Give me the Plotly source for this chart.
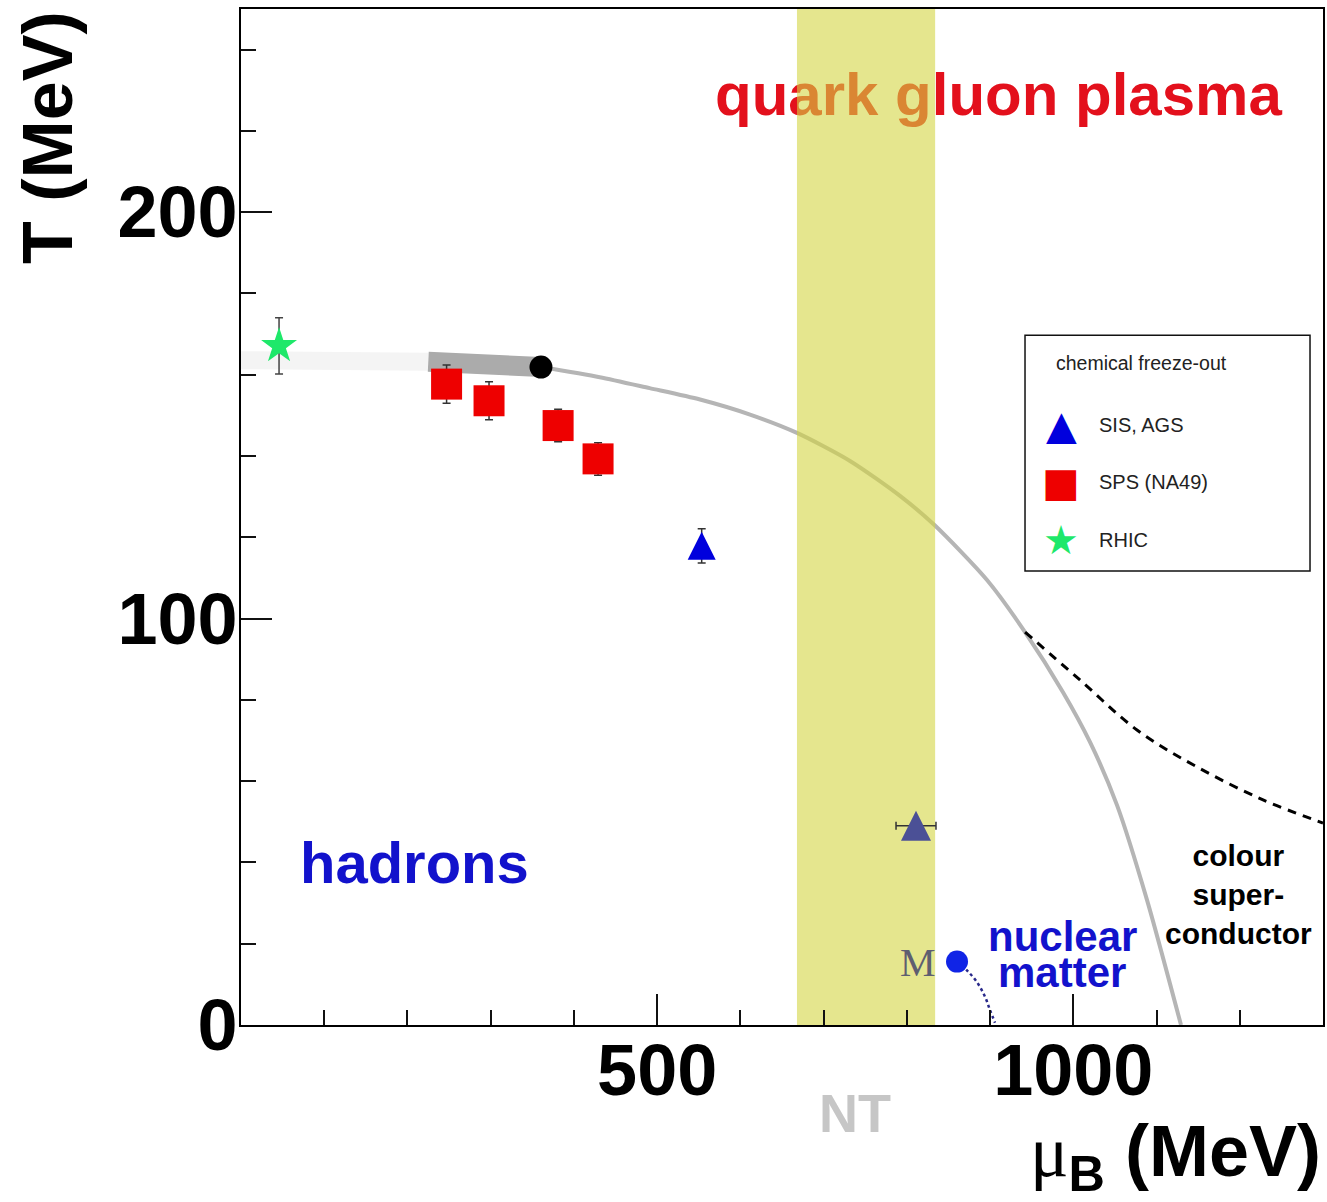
import plotly.graph_objects as go

# ---- chemical freeze-out points (mu_B in MeV, T in MeV) ----
sps_mu = [247, 298, 381, 429]
sps_T = [157.7, 153.6, 147.5, 139.3]
sps_err = [4.7, 4.7, 4.0, 4.0]

ags_mu = [553.5]
ags_T = [117.9]
ags_err = [4.2]

sis_mu = [811]
sis_T = [49.0]
sis_err_mu = [24]

rhic_mu = [45.7]
rhic_T = [167.1]
rhic_err = [6.9]

# ---- special points ----
crit_mu = [360.4]
crit_T = [161.9]
nucl_mu = [860.3]
nucl_T = [15.6]

# ---- phase boundaries ----
lattice_mu = [0, 225]
lattice_T = [163.6, 163.2]

crossover_mu = [225, 300, 360.4]
crossover_T = [163.2, 162.7, 161.9]

boundary_mu = [360.4, 431, 491, 551.5, 611.6, 668, 731.7, 791.8, 833.8,
               896.3, 942, 987.6, 1020.1, 1052.5, 1088.5, 1129.4]
boundary_T = [161.9, 159.4, 156.7, 153.9, 150.2, 145.7, 138.8, 130.2, 122.9,
              109.5, 96.7, 81.9, 69.6, 54.1, 30.8, 0]

csc_mu = [942, 1008, 1076.5, 1148.6, 1228, 1300]
csc_T = [96.7, 84.9, 72.6, 63.5, 55.4, 49.7]

nucl_line_mu = [860.3, 871.9, 883.9, 893.9, 899.9, 905.9]
nucl_line_T = [15.6, 13.5, 10.65, 6.96, 3.69, 0.57]

# ---- neutron-star (NT) window and axis ranges ----
nt_range = [668, 834]
mu_range = [0, 1300]
T_range = [0, 250]

x_major = [500, 1000]
x_minor = [v for v in range(100, 1301, 100) if v not in x_major]
y_major = [0, 100, 200]
y_minor = [v for v in range(20, 250, 20) if v not in y_major]

FONT = "Liberation Sans, Arial, Helvetica, sans-serif"

fig = go.Figure()

# faint lattice band continuing to mu_B = 0
fig.add_trace(go.Scatter(x=lattice_mu, y=lattice_T, mode="lines",
                         line=dict(color="#f4f4f4", width=18),
                         hoverinfo="skip", showlegend=False))
# crossover region (thick grey)
fig.add_trace(go.Scatter(x=crossover_mu, y=crossover_T, mode="lines",
                         line=dict(color="#ababab", width=20),
                         hoverinfo="skip", showlegend=False))
# first-order transition line
fig.add_trace(go.Scatter(x=boundary_mu, y=boundary_T, mode="lines",
                         line=dict(color="#b5b5b5", width=4, shape="spline", smoothing=0.7),
                         hoverinfo="skip", showlegend=False))
# colour superconductor boundary
fig.add_trace(go.Scatter(x=csc_mu, y=csc_T, mode="lines",
                         line=dict(color="black", width=3, dash="9px,7px", shape="spline"),
                         hoverinfo="skip", showlegend=False))
# nuclear liquid-gas line
fig.add_trace(go.Scatter(x=nucl_line_mu, y=nucl_line_T, mode="lines",
                         line=dict(color="#28288a", width=2.5, dash="dot", shape="spline"),
                         hoverinfo="skip", showlegend=False))

# phase label drawn as a trace so the NT window tints it
fig.add_trace(go.Scatter(x=[910], y=[227.6], mode="text",
                         text=["quark gluon plasma"],
                         textfont=dict(family=FONT, size=60, color="#e3101c", weight="bold"),
                         hoverinfo="skip", showlegend=False))

# NT window (semi-transparent)
fig.add_trace(go.Scatter(
    x=[nt_range[0], nt_range[1], nt_range[1], nt_range[0], nt_range[0]],
    y=[T_range[0], T_range[0], T_range[1], T_range[1], T_range[0]],
    mode="lines", fill="toself", fillcolor="rgba(212,213,67,0.6)",
    line=dict(width=0), hoverinfo="skip", showlegend=False))

# critical point
fig.add_trace(go.Scatter(x=crit_mu, y=crit_T, mode="markers",
                         marker=dict(color="black", size=23),
                         hoverinfo="skip", showlegend=False))
# nuclear matter ground state
fig.add_trace(go.Scatter(x=nucl_mu, y=nucl_T, mode="markers",
                         marker=dict(color="#1024e6", size=22),
                         hoverinfo="skip", showlegend=False))

# SPS (NA49)
fig.add_trace(go.Scatter(x=sps_mu, y=sps_T, mode="markers", name="SPS (NA49)",
                         marker=dict(symbol="square", color="#ee0000", size=31),
                         error_y=dict(type="data", array=sps_err, color="#333333",
                                      thickness=1.5, width=4),
                         showlegend=False))
# AGS
fig.add_trace(go.Scatter(x=ags_mu, y=ags_T, mode="markers", name="AGS",
                         marker=dict(symbol="arrow-down", angle=180, standoff=14,
                                     color="#0000dd", size=28),
                         error_y=dict(type="data", array=ags_err, color="#333333",
                                      thickness=1.5, width=4),
                         showlegend=False))
# SIS
fig.add_trace(go.Scatter(x=sis_mu, y=sis_T, mode="markers", name="SIS",
                         marker=dict(symbol="arrow-down", angle=180, standoff=15,
                                     color="#4b5096", size=30),
                         error_x=dict(type="data", array=sis_err_mu, color="#333333",
                                      thickness=1.5, width=4),
                         showlegend=False))
# RHIC
fig.add_trace(go.Scatter(x=rhic_mu, y=rhic_T, mode="markers", name="RHIC",
                         marker=dict(symbol="star", color="#1ee86a", size=27),
                         error_y=dict(type="data", array=rhic_err, color="#444444",
                                      thickness=1.5, width=4),
                         showlegend=False))

annotations = [
    dict(x=208, y=40.1, xref="x", yref="y", text="hadrons", showarrow=False,
         font=dict(family=FONT, size=58, color="#1212cc", weight="bold")),
    dict(x=987, y=21.7, xref="x", yref="y", text="nuclear", showarrow=False,
         font=dict(family=FONT, size=42, color="#1212cc", weight="bold")),
    dict(x=987, y=12.8, xref="x", yref="y", text="matter", showarrow=False,
         font=dict(family=FONT, size=42, color="#1212cc", weight="bold")),
    dict(x=1199, y=32, xref="x", yref="y", text="colour<br>super-<br>conductor",
         showarrow=False,
         font=dict(family=FONT, size=30, color="black", weight="bold")),
    dict(x=813.4, y=15.5, xref="x", yref="y", text="M", showarrow=False,
         font=dict(family="Liberation Serif, Times New Roman, serif", size=40,
                   color="#5e5e70")),
    dict(x=738, y=-0.0866, xref="x", yref="paper", text="NT", showarrow=False,
         xanchor="center", yanchor="middle",
         font=dict(family=FONT, size=54, color="#c6c6c6", weight="bold")),
    # axis titles
    dict(x=-0.1784, y=0.874, xref="paper", yref="paper", text="T (MeV)",
         textangle=-90, showarrow=False, xanchor="center", yanchor="middle",
         font=dict(family=FONT, size=70, color="black", weight="bold")),
    dict(x=1.0, y=-0.129, xref="paper", yref="paper",
         text='<span style="font-family:Liberation Serif;font-weight:normal">μ</span>'
              '<sub>B</sub> (MeV)',
         showarrow=False, xanchor="right", yanchor="middle",
         font=dict(family=FONT, size=72, color="black", weight="bold")),
    # legend
    dict(x=0.7514, y=0.6516, xref="paper", yref="paper", text="chemical freeze-out",
         showarrow=False, xanchor="left", yanchor="middle",
         font=dict(family=FONT, size=19.5, color="#222222")),
    dict(x=0.7579, y=0.5906, xref="paper", yref="paper", text="▲", showarrow=False,
         xanchor="center", yanchor="middle",
         font=dict(family="DejaVu Sans", size=40, color="#0000dd")),
    dict(x=0.7579, y=0.5344, xref="paper", yref="paper", text="■", showarrow=False,
         xanchor="center", yanchor="middle",
         font=dict(family="DejaVu Sans", size=40, color="#ee0000")),
    dict(x=0.7579, y=0.4774, xref="paper", yref="paper", text="★", showarrow=False,
         xanchor="center", yanchor="middle",
         font=dict(family="DejaVu Sans", size=40, color="#1ee86a")),
    dict(x=0.7911, y=0.5906, xref="paper", yref="paper", text="SIS, AGS",
         showarrow=False, xanchor="left", yanchor="middle",
         font=dict(family=FONT, size=20, color="#222222")),
    dict(x=0.7911, y=0.5344, xref="paper", yref="paper", text="SPS (NA49)",
         showarrow=False, xanchor="left", yanchor="middle",
         font=dict(family=FONT, size=20, color="#222222")),
    dict(x=0.7911, y=0.4774, xref="paper", yref="paper", text="RHIC",
         showarrow=False, xanchor="left", yanchor="middle",
         font=dict(family=FONT, size=20, color="#222222")),
]

shapes = [
    dict(type="rect", xref="paper", yref="paper", x0=0.7246, x1=0.988,
         y0=0.4469, y1=0.679, line=dict(color="#111111", width=1.5),
         fillcolor="rgba(0,0,0,0)", layer="above"),
]

fig.update_layout(
    width=1327, height=1202,
    margin=dict(l=241, r=4, t=9, b=177),
    paper_bgcolor="white", plot_bgcolor="white",
    showlegend=False,
    annotations=annotations,
    shapes=shapes,
    xaxis=dict(range=mu_range, showgrid=False, zeroline=False, automargin=False,
               showline=True, linecolor="black", linewidth=2, mirror=True,
               ticks="inside", ticklen=31, tickwidth=2, tickcolor="#111111",
               tickmode="array", tickvals=x_major, ticklabelstandoff=-18,
               tickfont=dict(family=FONT, size=72, color="black", weight="bold"),
               minor=dict(tickmode="array", tickvals=x_minor, ticks="inside",
                          ticklen=15, tickwidth=2, tickcolor="#111111")),
    yaxis=dict(range=T_range, showgrid=False, zeroline=False, automargin=False,
               showline=True, linecolor="black", linewidth=2, mirror=True,
               ticks="inside", ticklen=31, tickwidth=2, tickcolor="#111111",
               tickmode="array", tickvals=y_major, ticklabelstandoff=-13,
               tickfont=dict(family=FONT, size=72, color="black", weight="bold"),
               minor=dict(tickmode="array", tickvals=y_minor, ticks="inside",
                          ticklen=15, tickwidth=2, tickcolor="#111111")),
)

fig.write_html("out.html")
